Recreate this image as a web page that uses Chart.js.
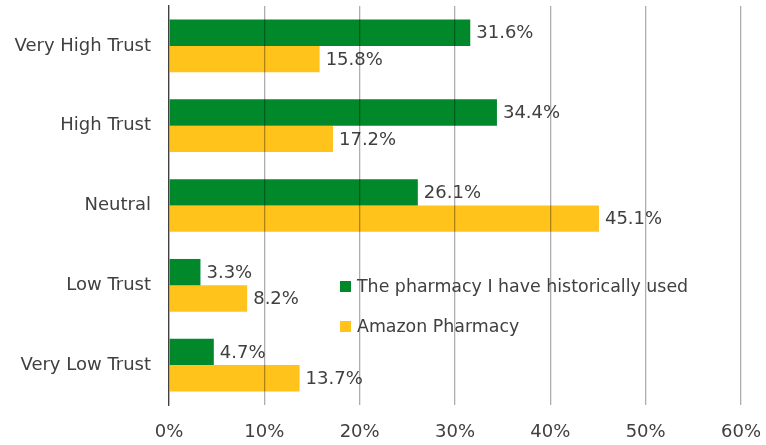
<!DOCTYPE html>
<html>
<head>
<meta charset="utf-8">
<script src="https://cdn.jsdelivr.net/npm/chart.js@4/dist/chart.umd.min.js"></script>
<style>
  html, body { margin: 0; padding: 0; background: #fff; }
  #wrap { width: 766px; height: 445px; }
</style>
</head>
<body>
<div id="wrap"><canvas id="trustChart"></canvas></div>
<script>
// Chart data
const categories = ['Very High Trust', 'High Trust', 'Neutral', 'Low Trust', 'Very Low Trust'];
const historicalPharmacy = [31.6, 34.4, 26.1, 3.3, 4.7];
const amazonPharmacy = [15.8, 17.2, 45.1, 8.2, 13.7];
const seriesNames = ['The pharmacy I have historically used', 'Amazon Pharmacy'];
const xTicks = [0, 10, 20, 30, 40, 50, 60];

const textColor = '#404040';
const fontFamily = '"DejaVu Sans", Verdana, sans-serif';
const fontSize = 18;

// value labels at the end of each bar
const barLabels = {
    id: 'barLabels',
    afterDatasetsDraw(chart) {
        const ctx = chart.ctx;
        ctx.save();
        ctx.font = fontSize + 'px ' + fontFamily;
        ctx.fillStyle = textColor;
        ctx.textBaseline = 'middle';
        ctx.textAlign = 'left';
        chart.data.datasets.forEach((ds, i) => {
            chart.getDatasetMeta(i).data.forEach((bar, j) => {
                ctx.fillText(ds.data[j].toFixed(1) + '%', bar.x + 6, bar.y + 1);
            });
        });
        ctx.restore();
    }
};

// legend drawn inside the plot area
const innerLegend = {
    id: 'innerLegend',
    afterDraw(chart) {
        const ctx = chart.ctx;
        const x = 340, y0 = 286, gap = 40;
        ctx.save();
        ctx.font = '17.4px ' + fontFamily;
        ctx.textBaseline = 'middle';
        chart.data.datasets.forEach((ds, i) => {
            const y = y0 + i * gap;
            ctx.fillStyle = ds.backgroundColor;
            ctx.fillRect(x, y - 5, 11, 11);
            ctx.fillStyle = textColor;
            ctx.fillText(ds.label, x + 17, y + 1);
        });
        ctx.restore();
    }
};

new Chart(document.getElementById('trustChart'), {
    type: 'bar',
    data: {
        labels: categories,
        datasets: [
            { label: seriesNames[0], data: historicalPharmacy, backgroundColor: '#00882B' },
            { label: seriesNames[1], data: amazonPharmacy, backgroundColor: '#FFC31C' }
        ]
    },
    options: {
        indexAxis: 'y',
        responsive: true,
        maintainAspectRatio: false,
        animation: false,
        layout: { padding: { top: 6, right: 25, left: 0, bottom: 0 } },
        plugins: {
            legend: { display: false },
            tooltip: { enabled: false }
        },
        datasets: {
            bar: { categoryPercentage: 0.66, barPercentage: 1.0 }
        },
        scales: {
            x: {
                min: 0,
                max: 60,
                afterBuildTicks: scale => { scale.ticks = xTicks.map(v => ({ value: v })); },
                afterFit: scale => {
                    scale.height = 40;
                    scale.paddingLeft = 0;
                    scale.paddingRight = 0;
                },
                grid: { color: 'rgba(0,0,0,0.32)', lineWidth: 1.3, drawTicks: false, z: 1 },
                border: { display: false },
                ticks: {
                    padding: 17,
                    color: textColor,
                    font: { size: fontSize, family: fontFamily },
                    callback: v => v + '%'
                }
            },
            y: {
                afterFit: scale => {
                    scale.width = 169;
                    scale.paddingTop = 0;
                    scale.paddingBottom = 0;
                },
                grid: { display: false, drawTicks: false },
                border: { display: true, color: '#404040', width: 1.3, z: 2 },
                ticks: {
                    padding: 18,
                    color: textColor,
                    font: { size: fontSize, family: fontFamily }
                }
            }
        }
    },
    plugins: [barLabels, innerLegend]
});
</script>
</body>
</html>
